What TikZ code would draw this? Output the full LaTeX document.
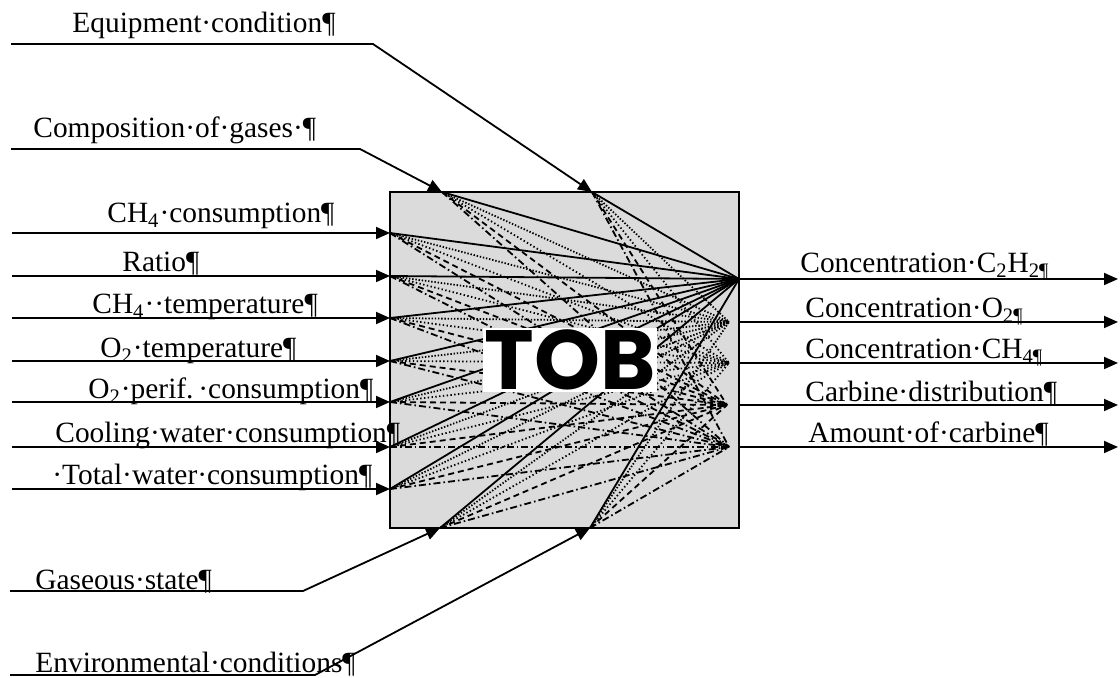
\documentclass[tikz,border=0pt]{standalone}
\usepackage{fontspec}
\setmainfont{Liberation Serif}
\newfontfamily\tobfont{Poppins}
\usetikzlibrary{arrows.meta}

\begin{document}
\begin{tikzpicture}[x=0.5pt, y=-0.5pt,
  lbl/.style    = {anchor=base west, inner sep=0pt, font=\fontsize{14.7}{17}\selectfont},
  feed/.style   = {line width=0.9pt, -{Triangle[length=7pt,width=6pt]}},
  block/.style  = {draw, line width=1.1pt, fill=black!14, minimum width=174.5pt, minimum height=168pt, inner sep=0pt},
  tobtag/.style = {fill=white, minimum width=87pt, minimum height=32pt, inner sep=0pt, font=\tobfont\bfseries\fontsize{42}{44}\selectfont},
  wire1/.style  = {line width=0.9pt},
  wire2/.style  = {line width=0.9pt, dash pattern=on 0.7pt off 0.9pt},
  wire3/.style  = {line width=0.9pt, dash pattern=on 0.7pt off 1.2pt},
  wire4/.style  = {line width=0.9pt, dash pattern=on 3pt off 2pt},
  wire5/.style  = {line width=0.9pt, dash pattern=on 3.5pt off 1.5pt on 0.8pt off 1.5pt}]

\useasboundingbox (0,0) rectangle (1120,678);

% the block itself
\node[block] (blk) at (564.5,360) {};

% points where the flows meet the block
\foreach \y [count=\i] in {233,276,318,361,402,447,489} {
  \coordinate (src\i) at (12,\y);
  \coordinate (in\i) at (390,\y);
}
\coordinate (top1) at (442,192);
\coordinate (top2) at (592,192);
\coordinate (bot1) at (440,528);
\coordinate (bot2) at (590,528);

\foreach \y [count=\j] in {279,322,363,405,447} {
  \coordinate (out\j) at (739,\y);
  \coordinate (sink\j) at (1118,\y);
}
\coordinate (hub1) at (739,279);
\coordinate (hub2) at (729,322);
\coordinate (hub3) at (729,363);
\coordinate (hub4) at (727,405);
\coordinate (hub5) at (729,447);

% every input linked to every output inside the block
\foreach \s in {in1,in2,in3,in4,in5,in6,in7,top1,top2,bot1,bot2}
  \foreach \j in {1,...,5}
    \draw[wire\j] (\s) -- (hub\j);

\node[tobtag] (tob) at (570,360) {TOB};

%----------------------------------------- inputs from the left -----------------------------------------
\foreach \i in {1,...,7}
  \draw[feed] (src\i) -- (in\i);

\node[lbl] (l1) at (107,223) {CH\textsubscript{4}·consumption¶};
\node[lbl] (l2) at (122,272) {Ratio¶};
\node[lbl] (l3) at (92,314)  {CH\textsubscript{4}··temperature¶};
\node[lbl] (l4) at (100,358) {O\textsubscript{2}·temperature¶};
\node[lbl] (l5) at (88,399)  {O\textsubscript{2}·perif.\,·consumption¶};
\node[lbl] (l6) at (55,443)  {Cooling·water·consumption¶};
\node[lbl] (l7) at (52,485)  {·Total·water·consumption¶};

%----------------------------------------- inputs from above and below ----------------------------------
\coordinate (eqs) at (11,44);   \coordinate (eqb) at (373,44);
\coordinate (cgs) at (11,149);  \coordinate (cgb) at (360,149);
\coordinate (gss) at (10,591);  \coordinate (gsb) at (303,591);
\coordinate (ens) at (10,675);  \coordinate (enb) at (315,675);

\draw[feed] (eqs) -- (eqb) -- (top2);
\draw[feed] (cgs) -- (cgb) -- (top1);
\draw[feed] (gss) -- (gsb) -- (bot1);
\draw[feed] (ens) -- (enb) -- (bot2);

\node[lbl] (t1) at (72,33)  {Equipment·condition¶};
\node[lbl] (t2) at (33,138) {Composition·of·gases·¶};
\node[lbl] (b1) at (35,590) {Gaseous·state¶};
\node[lbl] (b2) at (35,672) {Environmental·conditions¶};

%----------------------------------------- outputs ------------------------------------------------------
\foreach \j in {1,...,5}
  \draw[feed] (out\j) -- (sink\j);

\node[lbl] (r1) at (800,273) {Concentration·C\textsubscript{2}H\textsubscript{2¶}};
\node[lbl] (r2) at (805,318) {Concentration·O\textsubscript{2¶}};
\node[lbl] (r3) at (805,359) {Concentration·CH\textsubscript{4¶}};
\node[lbl] (r4) at (805,402) {Carbine·distribution¶};
\node[lbl] (r5) at (808,443) {Amount·of·carbine¶};

\end{tikzpicture}
\end{document}
